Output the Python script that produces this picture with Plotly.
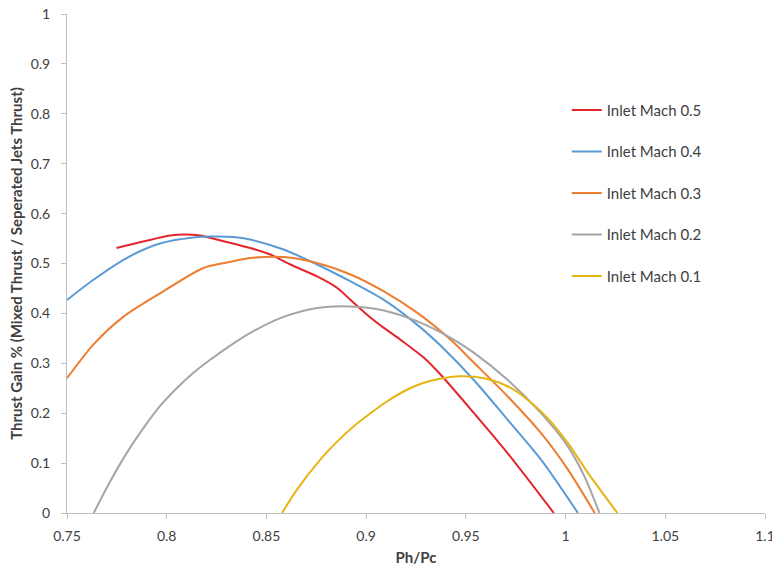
import plotly.graph_objects as go

# Ph/Pc vs thrust gain for each inlet Mach number
mach05_x = [0.7748, 0.7882, 0.8017, 0.8083, 0.8168, 0.8251, 0.8352, 0.8419, 0.852, 0.862,
            0.8754, 0.8855, 0.8922, 0.9006, 0.9089, 0.9173, 0.929, 0.9374, 0.9541, 0.9709,
            0.9941]
mach05_y = [0.531, 0.544, 0.556, 0.558, 0.556, 0.548, 0.538, 0.531, 0.518, 0.498,
            0.474, 0.451, 0.427, 0.397, 0.371, 0.347, 0.311, 0.277, 0.200, 0.120,
            0.0]

mach04_x = [0.75, 0.7631, 0.7799, 0.7966, 0.8134, 0.8218, 0.8335, 0.8419, 0.8586, 0.8754,
            0.8922, 0.9089, 0.9257, 0.9374, 0.9541, 0.9709, 0.9877, 1.0062]
mach04_y = [0.427, 0.467, 0.511, 0.540, 0.552, 0.554, 0.553, 0.548, 0.528, 0.498,
            0.464, 0.427, 0.377, 0.335, 0.266, 0.187, 0.107, 0.0]

mach03_x = [0.75, 0.7631, 0.7782, 0.7966, 0.8184, 0.8302, 0.8419, 0.8586, 0.8754, 0.8922,
            0.9089, 0.9257, 0.9424, 0.9541, 0.9709, 0.9877, 1.0012, 1.0146]
mach03_y = [0.270, 0.337, 0.393, 0.440, 0.491, 0.502, 0.511, 0.513, 0.501, 0.478,
            0.444, 0.401, 0.347, 0.301, 0.234, 0.160, 0.087, 0.0]

mach02_x = [0.7634, 0.7715, 0.7799, 0.7883, 0.7966, 0.805, 0.8134, 0.8218, 0.8302, 0.8419,
            0.8586, 0.8754, 0.8922, 0.9089, 0.9257, 0.9424, 0.9541, 0.9709, 0.9877, 1.0012,
            1.0095, 1.017]
mach02_y = [0.0, 0.062, 0.120, 0.170, 0.214, 0.250, 0.281, 0.307, 0.331, 0.361,
            0.393, 0.411, 0.414, 0.406, 0.384, 0.351, 0.321, 0.267, 0.200, 0.133,
            0.073, 0.0]

mach01_x = [0.8578, 0.8653, 0.877, 0.8854, 0.8938, 0.9022, 0.9106, 0.919, 0.9274, 0.9358,
            0.9474, 0.9592, 0.9709, 0.981, 0.991, 1.0012, 1.0113, 1.026]
mach01_y = [0.0, 0.047, 0.107, 0.143, 0.174, 0.200, 0.224, 0.244, 0.259, 0.268,
            0.274, 0.270, 0.254, 0.227, 0.190, 0.140, 0.080, 0.0]

series = [
    ("Inlet Mach 0.5", mach05_x, mach05_y, "#E3262B"),
    ("Inlet Mach 0.4", mach04_x, mach04_y, "#5B9BD5"),
    ("Inlet Mach 0.3", mach03_x, mach03_y, "#ED7D31"),
    ("Inlet Mach 0.2", mach02_x, mach02_y, "#A5A5A5"),
    ("Inlet Mach 0.1", mach01_x, mach01_y, "#E6B514"),
]

x_ticks = [0.75, 0.8, 0.85, 0.9, 0.95, 1.0, 1.05, 1.1]
x_tick_text = ["0.75", "0.8", "0.85", "0.9", "0.95", "1", "1.05", "1.1"]
y_ticks = [0, 0.1, 0.2, 0.3, 0.4, 0.5, 0.6, 0.7, 0.8, 0.9, 1.0]
y_tick_text = ["0", "0.1", "0.2", "0.3", "0.4", "0.5", "0.6", "0.7", "0.8", "0.9", "1"]

FONT = "Lato, 'Open Sans', sans-serif"
TEXT_COLOR = "#404040"

fig = go.Figure()
for i, (name, xs, ys, color) in enumerate(series):
    fig.add_trace(go.Scatter(
        x=xs, y=ys, name=name, mode="lines",
        line=dict(color=color, width=2, shape="spline", smoothing=0.8),
        legendgroup=f"g{i}",
    ))

axis_style = dict(
    showgrid=False, zeroline=False, showline=True, linecolor="#BFBFBF", linewidth=1,
    ticks="outside", ticklen=5, tickcolor="#BFBFBF", automargin=False,
    ticklabeloverflow="allow",
    tickfont=dict(family=FONT, size=14, color=TEXT_COLOR),
)

fig.update_layout(
    width=772, height=566,
    margin=dict(l=67, r=7, t=14, b=53),
    paper_bgcolor="white", plot_bgcolor="white",
    xaxis=dict(range=[0.75, 1.1], tickvals=x_ticks, ticktext=x_tick_text,
               ticklabelstandoff=5,
               title=dict(text="<b>Ph/Pc</b>", font=dict(family=FONT, size=15, color=TEXT_COLOR),
                          standoff=9),
               **axis_style),
    yaxis=dict(range=[0, 1], tickvals=y_ticks, ticktext=y_tick_text,
               ticklabelstandoff=8,
               title=dict(text="<b>Thrust Gain % (Mixed Thrust / Seperated Jets Thrust)</b>",
                          font=dict(family=FONT, size=15, color=TEXT_COLOR), standoff=4),
               **axis_style),
    legend=dict(x=0.716, y=0.84, xanchor="left", yanchor="top",
                font=dict(family=FONT, size=15, color=TEXT_COLOR),
                tracegroupgap=19, itemwidth=30, bgcolor="rgba(0,0,0,0)"),
    showlegend=True,
)

fig.write_html("out.html")
